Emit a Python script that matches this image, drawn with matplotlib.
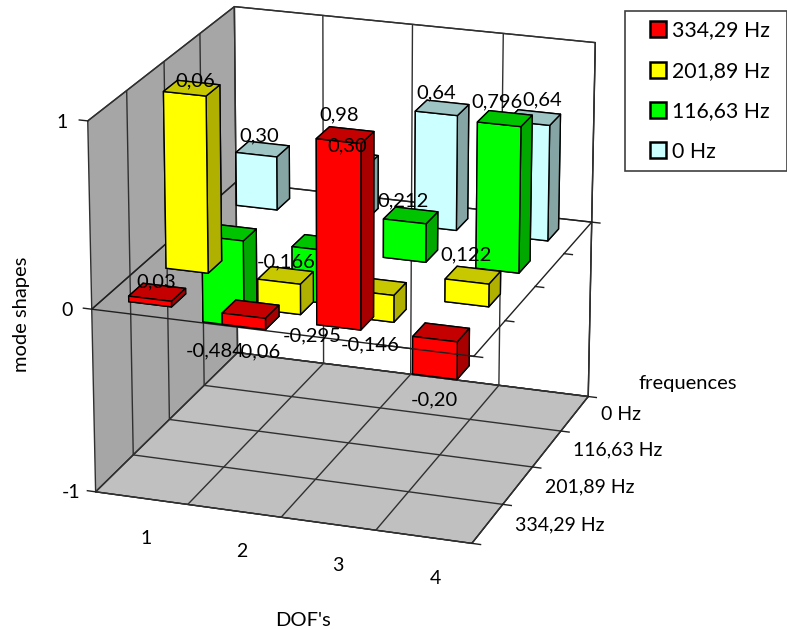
import numpy as np
import matplotlib
matplotlib.use('Agg')
import matplotlib.pyplot as plt
from matplotlib.legend_handler import HandlerPatch
from matplotlib.patches import Patch, Rectangle
from matplotlib.transforms import ScaledTranslation

plt.rcParams['font.family'] = ['Lato', 'DejaVu Sans']

# Data
dofs = ['1', '2', '3', '4']
freqs = ['334,29 Hz', '201,89 Hz', '116,63 Hz', '0 Hz']
red = [0.03, -0.06, 0.98, -0.20]
yellow = [0.96, -0.166, -0.146, 0.122]
green = [-0.484, -0.295, 0.212, 0.796]
white = [0.30, 0.30, 0.64, 0.64]
# the labels in the original do not always agree with the bar height
red_labels = ['0,03', '-0,06', '0,98', '-0,20']
yellow_labels = ['0,06', '-0,166', '-0,146', '0,122']
green_labels = ['-0,484', '-0,295', '0,212', '0,796']
white_labels = ['0,30', '0,30', '0,64', '0,64']

series = [red, yellow, green, white]
labels = [red_labels, yellow_labels, green_labels, white_labels]
# front, top, side colours
colors = [('#ff0000', '#c40000', '#a80000'),
          ('#ffff00', '#c8c800', '#b0b000'),
          ('#00ff00', '#00c400', '#00a800'),
          ('#ccffff', '#9fc4c4', '#85a5a5')]

# nudges of the data labels in pixels (right, down), Excel put them by hand
label_nudge = [[(-1, 6), (7, 11), (-6, -3), (-6, 10)],
               [(4, 10), (0, -64), (-8, 12), (-7, -4)],
               [(-15, 14), (-7, 21), (-8, 2), (-8, 0)],
               [(-3, 3), (-4, 3), (-6, 1), (8, -1)]]

W, H = 787, 629
fig = plt.figure(figsize=(W / 100, H / 100), dpi=100)
ax = fig.add_axes([-0.068, 0.066, 1.0, 1.0], projection='3d', computed_zorder=False)
ax.patch.set_alpha(0)
ax.set_proj_type('persp', focal_length=1.3)
ax.view_init(elev=20, azim=-71)
ax.set_box_aspect((372, 385, 368), zoom=1.05)
ax.set_xlim(0, 4, view_margin=0)
ax.set_ylim(0, 4, view_margin=0)
ax.set_zlim(-1, 1, view_margin=0)
ax.set_xticks(range(5))
ax.set_yticks(range(5))
ax.set_zticks([-1, 0, 1])
ax.set_xticklabels([])
ax.set_yticklabels([])
ax.set_zticklabels([])


def nudged(dx, dy):
    return ax.transData + ScaledTranslation(dx / 100, -dy / 100, fig.dpi_scale_trans)


# walls and floor
ax.xaxis.set_pane_color('#a6a6a6')
ax.yaxis.set_pane_color('#ffffff')
ax.zaxis.set_pane_color('#c0c0c0')
for axis in (ax.xaxis, ax.yaxis, ax.zaxis):
    axis.pane.set_edgecolor('#303030')
    axis.pane.set_linewidth(1.0)
    axis._axinfo['grid']['color'] = '#303030'
    axis._axinfo['grid']['linewidth'] = 1.0
    axis._axinfo['tick']['inward_factor'] = 0
    axis._axinfo['tick']['outward_factor'] = 0
    axis.line.set_color('#303030')

line_kw = dict(color='#202020', lw=1.0)

# plane at z = 0
ax.plot([0, 4], [4, 4], [0, 0], zorder=1, **line_kw)
ax.plot([0, 0], [0, 4], [0, 0], zorder=1, **line_kw)
ax.plot([0, 4], [0, 0], [0, 0], zorder=1, **line_kw)
ax.plot([4, 4], [0, 4], [0, 0], zorder=1, **line_kw)

# tick marks
for z in [-1, 0, 1]:
    ax.plot([0, -0.09], [0, 0], [z, z], zorder=1, **line_kw)
for y in range(5):
    ax.plot([4, 4.09], [y, y], [-1, -1], zorder=1, **line_kw)
    ax.plot([4, 4.09], [y, y], [0, 0], zorder=1, **line_kw)

# bars, back row first, left to right
bar_w = 0.46
bar_d = 0.38
order = 10
for row in [3, 2, 1, 0]:
    front, top, side = colors[row]
    for col in range(4):
        v = series[row][col]
        face = [top, top, front, front, side, side]
        ax.bar3d(col + 0.5 - bar_w / 2, row + 0.5 - bar_d / 2, min(0, v),
                 bar_w, bar_d, abs(v), color=face, edgecolor='black',
                 linewidth=1.0, shade=False, zorder=order)
        order += 1

# the front line shows over the last red bar
ax.plot([3, 4], [0, 0], [0, 0], zorder=order, **line_kw)

# data labels
txt_size = 14.5
for row in range(4):
    for col in range(4):
        v = series[row][col]
        z = v + 0.09 if v >= 0 else v - 0.11
        dx, dy = label_nudge[row][col]
        ax.text(col + 0.5, row + 0.5, z, labels[row][col], ha='center', va='center',
                fontsize=txt_size, color='black', zorder=100, transform=nudged(dx, dy))

# tick labels
tick_size = 14
for i, name in enumerate(dofs):
    ax.text(i + 0.92, -0.9, -1, name, ha='center', va='center', fontsize=tick_size, zorder=100)
for i, name in enumerate(freqs):
    ax.text(4.27, i + 0.55, -1, name, ha='left', va='center', fontsize=tick_size, zorder=100)
for z, name in zip([1, 0, -1], ['1', '0', '-1']):
    ax.text(-0.27, 0, z, name, ha='center', va='center', fontsize=tick_size, zorder=100,
            transform=nudged(0, 4))

# axis titles
fig.text(22 / W, 1 - 314 / H, 'mode shapes', rotation=90, ha='center', va='center', fontsize=txt_size)
fig.text(303 / W, 1 - 620 / H, "DOF's", ha='center', va='center', fontsize=txt_size)
fig.text(688 / W, 1 - 384 / H, 'frequences', ha='center', va='center', fontsize=txt_size)


# legend swatch sits at the right end of the handle box
def square_swatch(legend, orig_handle, xdescent, ydescent, width, height, fontsize):
    side = 11.5
    return Rectangle((width - side - xdescent, (height - side) / 2 - ydescent), side, side)


handles = [Patch(facecolor=colors[i][0], edgecolor='black', linewidth=1.8, label=freqs[i]) for i in range(4)]
leg = fig.legend(handles=handles, loc='upper left', bbox_to_anchor=(625 / W, 1 - 169 / H, 162 / W, 158 / H),
                 mode='expand', borderaxespad=0, fancybox=False, framealpha=1, edgecolor='#404040',
                 fontsize=15.3, handlelength=1.48, handleheight=0.85, handletextpad=0.28,
                 labelspacing=0.96, borderpad=0.45,
                 handler_map={Patch: HandlerPatch(patch_func=square_swatch)})
leg.get_frame().set_linewidth(1.2)

fig.savefig('out.png', dpi=100)
